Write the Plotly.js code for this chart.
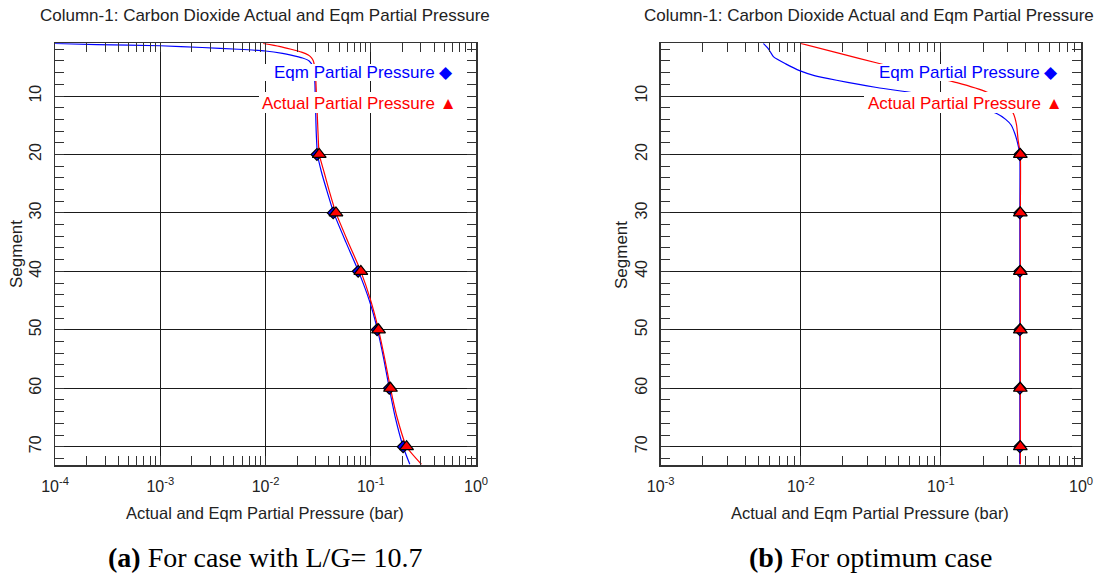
<!DOCTYPE html>
<html>
<head>
<meta charset="utf-8">
<script src="https://cdn.plot.ly/plotly-3.0.1.min.js"></script>
<style>
html,body{margin:0;padding:0;background:#fff;}
#chart{width:1097px;height:573px;}
</style>
</head>
<body>
<div id="chart"></div>
<script>
// ---------- (a) L/G = 10.7 ----------
const segEqmA = [1, 1.2, 1.4, 1.7, 2.0, 2.3, 2.7, 3.0, 3.5, 4, 5, 6, 8, 10, 13, 16, 20, 23, 26, 30, 35, 40, 45, 50, 55, 60, 65, 70, 73];
const eqmA    = [0.0001, 0.00025, 0.001, 0.0025, 0.0055, 0.010, 0.0145, 0.0175, 0.0225, 0.026, 0.0283, 0.029, 0.0295, 0.0297, 0.0300, 0.0303, 0.0312, 0.034, 0.038, 0.0445, 0.058, 0.0765, 0.097, 0.116, 0.133, 0.150, 0.171, 0.203, 0.235];
const segActA = [1, 1.5, 2.0, 2.5, 3.0, 3.5, 4, 5, 7, 10, 13, 16, 20, 23, 26, 30, 35, 40, 45, 50, 55, 60, 65, 70, 73];
const actA    = [0.0095, 0.0135, 0.0175, 0.022, 0.0255, 0.0275, 0.0285, 0.0293, 0.0300, 0.0305, 0.0310, 0.0315, 0.0324, 0.036, 0.040, 0.0467, 0.061, 0.0805, 0.100, 0.1186, 0.136, 0.154, 0.178, 0.219, 0.303];
const markSeg = [20, 30, 40, 50, 60, 70];
const eqmMarkA = [0.0308, 0.044, 0.0759, 0.1149, 0.150, 0.203];
const actMarkA = [0.0324, 0.0467, 0.0805, 0.1186, 0.154, 0.219];

// ---------- (b) optimum ----------
const segEqmB = [1, 2, 3.3, 4.5, 5.7, 6.5, 7.3, 8.0, 8.5, 9.3, 10, 11, 12, 13, 14, 15, 16.5, 17.5, 19, 20, 30, 40, 50, 60, 70, 73];
const eqmB    = [0.0054, 0.0059, 0.0064, 0.0078, 0.0099, 0.0125, 0.018, 0.026, 0.034, 0.057, 0.080, 0.125, 0.185, 0.250, 0.290, 0.318, 0.338, 0.348, 0.360, 0.366, 0.366, 0.366, 0.366, 0.366, 0.366, 0.365];
const segActB = [1, 2.7, 4.4, 6.0, 7.7, 9.3, 11, 13, 15, 17.6, 20, 30, 40, 50, 60, 70, 73];
const actB    = [0.0100, 0.0189, 0.0357, 0.065, 0.130, 0.212, 0.285, 0.329, 0.347, 0.356, 0.369, 0.369, 0.369, 0.369, 0.369, 0.369, 0.369];
const eqmMarkB = [0.366, 0.366, 0.366, 0.366, 0.366, 0.366];
const actMarkB = [0.369, 0.369, 0.369, 0.369, 0.369, 0.369];

// ---------- tick labels and texts ----------
const xTickValsA = [0.0001, 0.001, 0.01, 0.1, 1];
const xTickTextA = ['10<sup>-4</sup>', '10<sup>-3</sup>', '10<sup>-2</sup>', '10<sup>-1</sup>', '10<sup>0</sup>'];
const xTickValsB = [0.001, 0.01, 0.1, 1];
const xTickTextB = ['10<sup>-3</sup>', '10<sup>-2</sup>', '10<sup>-1</sup>', '10<sup>0</sup>'];
const yTicks = [10, 20, 30, 40, 50, 60, 70];
const titleText = 'Column-1: Carbon Dioxide Actual and Eqm Partial Pressure';
const xTitleText = 'Actual and Eqm Partial Pressure (bar)';
const yTitleText = 'Segment';
const eqmLabel = 'Eqm Partial Pressure ◆';
const actLabel = 'Actual Partial Pressure ▲';
const captionA = '<b>(a)</b> For case with L/G= 10.7';
const captionB = '<b>(b)</b> For optimum case';

const W = 1097, H = 573;
const px = v => v / W;
const py = v => 1 - v / H;

const BLUE = '#0000ff', RED = '#ff0000';
const sans = 'Liberation Sans, Arial, sans-serif';
const serif = 'Liberation Serif, Times New Roman, serif';

function lineTrace(x, y, color, xa, ya) {
  return {x: x, y: y, type: 'scatter', mode: 'lines', xaxis: xa, yaxis: ya,
          line: {color: color, width: 1.2, shape: 'spline', smoothing: 0.5}, hoverinfo: 'skip'};
}
function markTrace(x, y, color, symbol, size, xa, ya) {
  return {x: x, y: y, type: 'scatter', mode: 'markers', xaxis: xa, yaxis: ya,
          marker: {color: color, symbol: symbol, size: size, line: {color: '#000', width: 1.2}}, hoverinfo: 'skip'};
}

const traces = [
  lineTrace(eqmA, segEqmA, BLUE, 'x', 'y'),
  lineTrace(actA, segActA, RED, 'x', 'y'),
  markTrace(eqmMarkA, markSeg, BLUE, 'diamond', 9, 'x', 'y'),
  markTrace(actMarkA, markSeg, RED, 'triangle-up', 12, 'x', 'y'),
  lineTrace(eqmB, segEqmB, BLUE, 'x2', 'y2'),
  lineTrace(actB, segActB, RED, 'x2', 'y2'),
  markTrace(eqmMarkB, markSeg, BLUE, 'diamond', 9, 'x2', 'y2'),
  markTrace(actMarkB, markSeg, RED, 'triangle-up', 12, 'x2', 'y2')
];

function xAxis(dom, range, anchor, vals, texts) {
  return {
    type: 'log', domain: dom, range: range, anchor: anchor,
    tickmode: 'array', tickvals: vals, ticktext: texts,
    showgrid: true, gridcolor: '#1a1a1a', gridwidth: 1,
    showline: true, linecolor: '#333', linewidth: 1.5, mirror: 'allticks',
    ticks: 'inside', ticklen: 9, tickcolor: '#333', tickwidth: 1,
    minor: {ticks: 'inside', ticklen: 9, tickcolor: '#333', tickwidth: 1, dtick: 'D1', showgrid: false},
    tickfont: {family: sans, size: 16, color: '#222'},
    ticklabelstandoff: 6,
    zeroline: false, fixedrange: true
  };
}
function yAxis(dom, anchor) {
  return {
    domain: dom, range: [73.13, 0.98], anchor: anchor,
    tickvals: yTicks, tickangle: -90,
    showgrid: true, gridcolor: '#1a1a1a', gridwidth: 1,
    showline: true, linecolor: '#333', linewidth: 1.5, mirror: 'allticks',
    ticks: 'inside', ticklen: 9, tickcolor: '#333', tickwidth: 1,
    minor: {ticks: 'inside', ticklen: 9, tickcolor: '#333', tickwidth: 1, tick0: 0, dtick: 2, showgrid: false},
    tickfont: {family: sans, size: 16, color: '#222'},
    ticklabelstandoff: 6,
    zeroline: false, fixedrange: true
  };
}

const yDom = [py(465), py(43.3)];

function txt(text, x, y, size, color, extra) {
  return Object.assign({text: text, xref: 'paper', yref: 'paper', x: x, y: y, showarrow: false,
    xanchor: 'center', yanchor: 'middle',
    font: {family: sans, size: size, color: color}}, extra || {});
}

const annotations = [
  txt(titleText, px(265), py(16), 17, '#222'),
  txt(titleText, px(869), py(16), 17, '#222'),
  txt(xTitleText, px(265), py(513), 16.5, '#222'),
  txt(xTitleText, px(870), py(513), 16.5, '#222'),
  txt(yTitleText, px(16), py(254), 17, '#222', {textangle: -90}),
  txt(yTitleText, px(622), py(255), 17, '#222', {textangle: -90}),
  // in-plot legend labels
  txt(eqmLabel, px(272), py(72), 17, BLUE, {xanchor: 'left'}),
  txt(actLabel, px(260), py(103), 17, RED, {xanchor: 'left'}),
  txt(eqmLabel, px(877), py(72), 17, BLUE, {xanchor: 'left'}),
  txt(actLabel, px(866), py(103), 17, RED, {xanchor: 'left'}),
  // captions
  txt(captionA, px(265), py(557), 28, '#000', {font: {family: serif, size: 28, color: '#000'}}),
  txt(captionB, px(870), py(557), 28, '#000', {font: {family: serif, size: 28, color: '#000'}})
];

function whiteBox(x0, x1, y0, y1) {
  return {type: 'rect', xref: 'paper', yref: 'paper', x0: px(x0), x1: px(x1), y0: py(y1), y1: py(y0),
          fillcolor: '#fff', line: {width: 0}, layer: 'above'};
}
const shapes = [
  whiteBox(262, 467, 64, 81),
  whiteBox(259, 467, 92, 113),
  whiteBox(875, 1072, 64, 81),
  whiteBox(864, 1072, 92, 113)
];

const layout = {
  width: W, height: H,
  margin: {l: 0, r: 0, t: 0, b: 0},
  paper_bgcolor: '#fff', plot_bgcolor: '#fff',
  showlegend: false,
  xaxis: xAxis([px(55), px(476)], [-4, 0], 'y', xTickValsA, xTickTextA),
  yaxis: yAxis(yDom, 'x'),
  xaxis2: xAxis([px(660.7), px(1081)], [-3, 0], 'y2', xTickValsB, xTickTextB),
  yaxis2: yAxis(yDom, 'x2'),
  annotations: annotations,
  shapes: shapes
};

Plotly.newPlot('chart', traces, layout, {displayModeBar: false, staticPlot: true});
</script>
</body>
</html>
